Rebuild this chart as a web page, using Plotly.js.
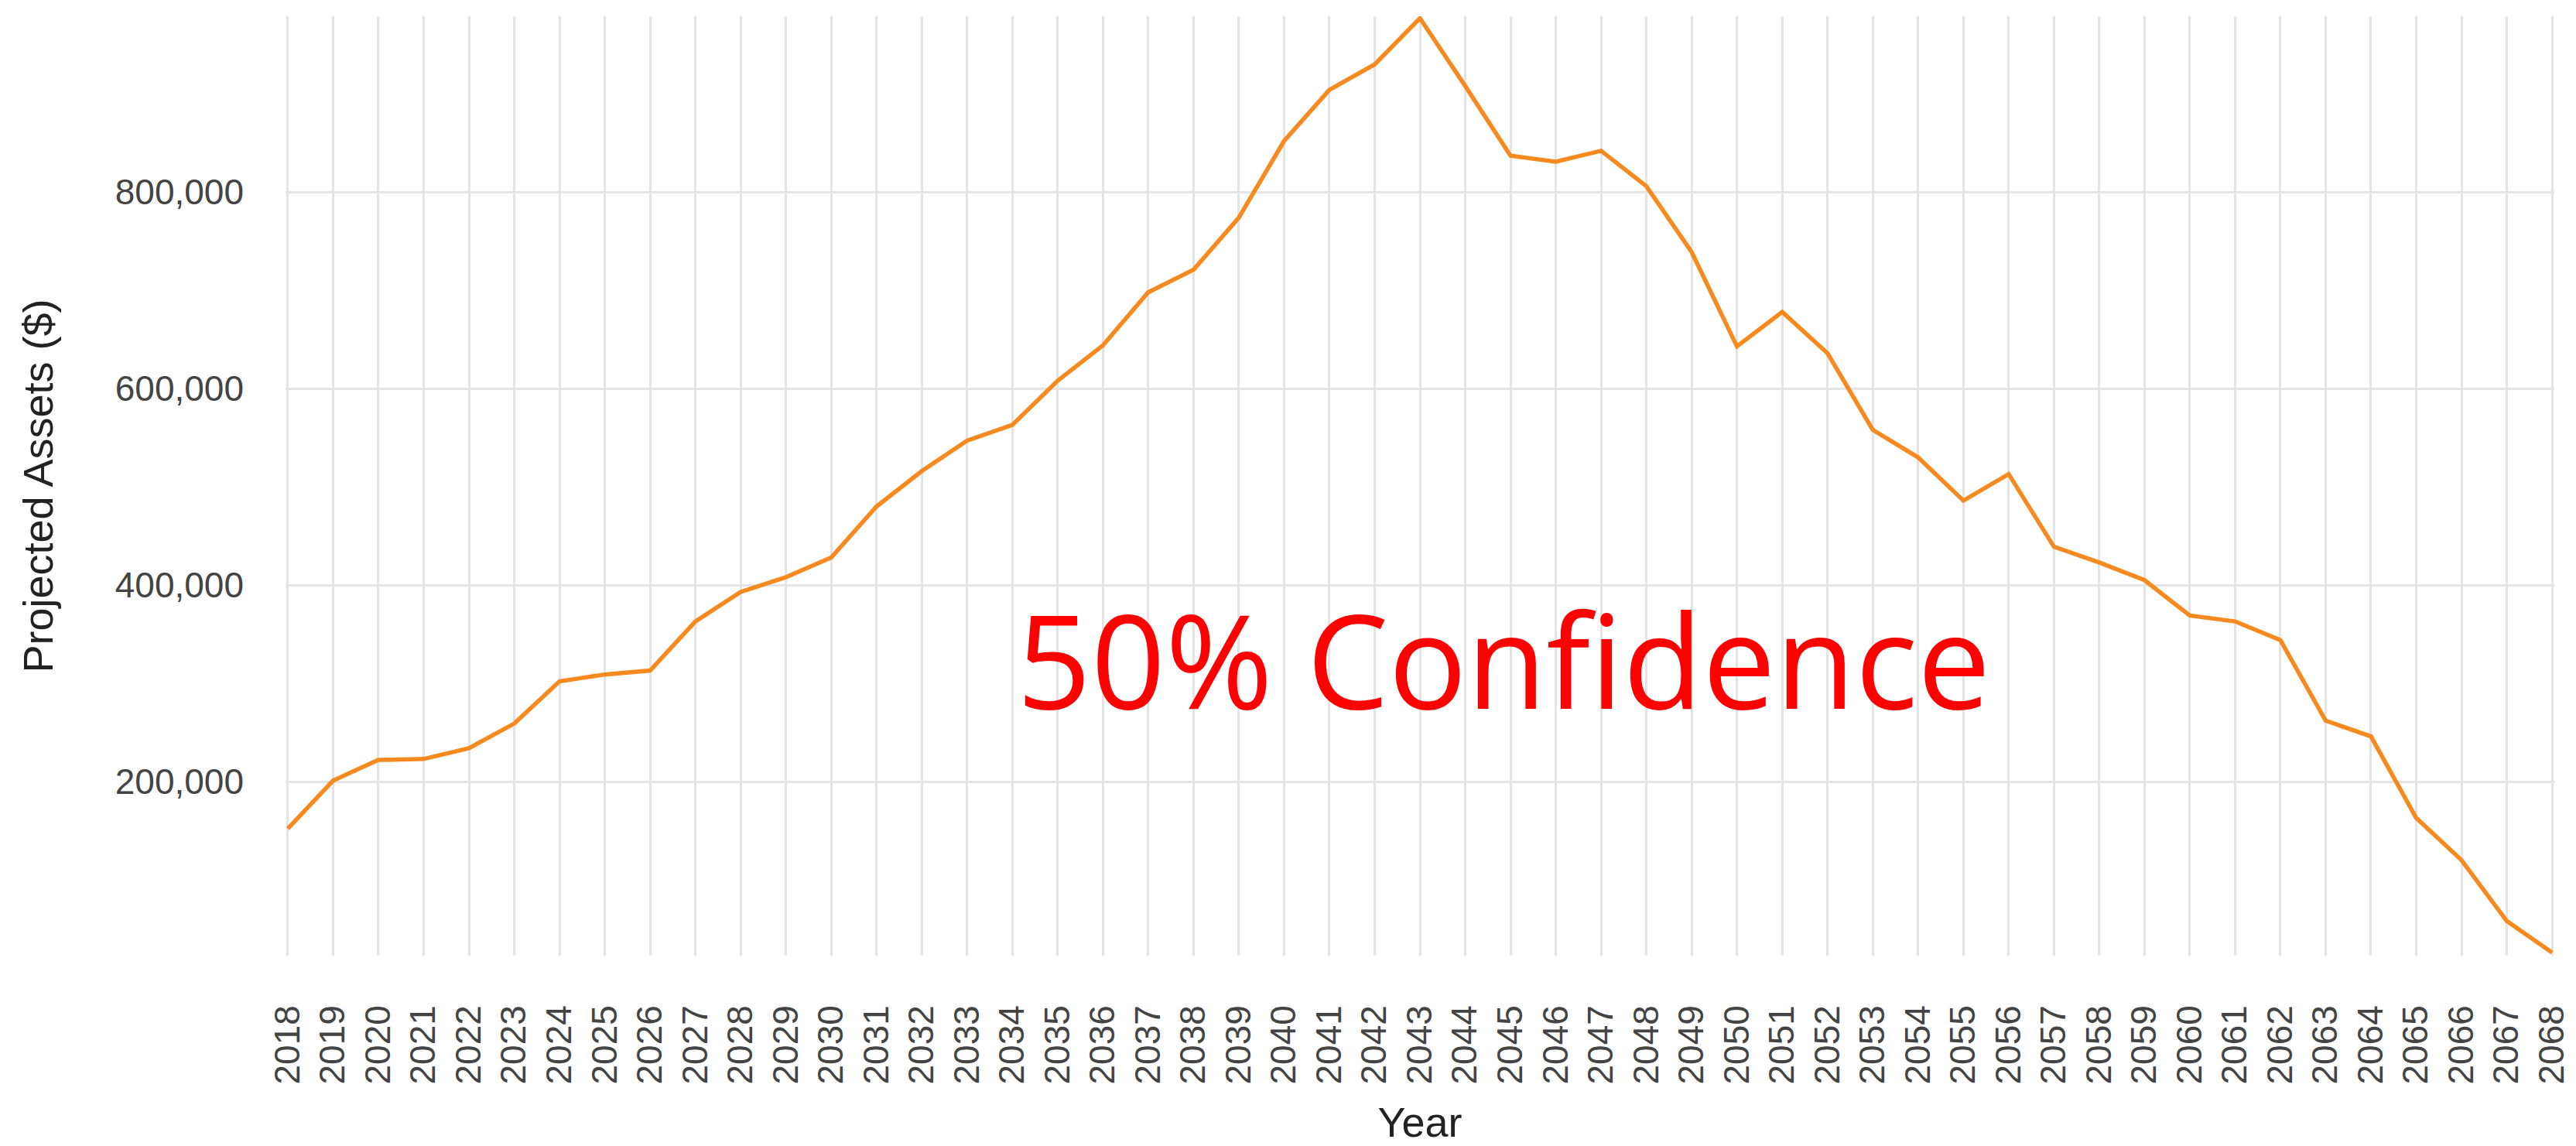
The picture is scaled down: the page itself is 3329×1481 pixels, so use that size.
<!DOCTYPE html>
<html>
<head>
<meta charset="utf-8">
<script src="https://cdn.plot.ly/plotly-3.0.1.min.js"></script>
<style>
  html, body { margin: 0; padding: 0; background: #fff; }
  #chart { width: 3329px; height: 1481px; }
</style>
</head>
<body>
<div id="chart"></div>
<script>
const years = [2018, 2019, 2020, 2021, 2022, 2023, 2024, 2025, 2026, 2027,
               2028, 2029, 2030, 2031, 2032, 2033, 2034, 2035, 2036, 2037,
               2038, 2039, 2040, 2041, 2042, 2043, 2044, 2045, 2046, 2047,
               2048, 2049, 2050, 2051, 2052, 2053, 2054, 2055, 2056, 2057,
               2058, 2059, 2060, 2061, 2062, 2063, 2064, 2065, 2066, 2067, 2068];

const projectedAssets = [152000, 201000, 222000, 223000, 234000, 259000, 302000, 309000, 313000, 363000,
                         393000, 408000, 428000, 480000, 516000, 547000, 563000, 608000, 644000, 698000,
                         721000, 774000, 852000, 904000, 930000, 977000, 908000, 837000, 831000, 842000,
                         806000, 739000, 643000, 678000, 636000, 558000, 530000, 486000, 513000, 439000,
                         423000, 405000, 369000, 363000, 344000, 262000, 246000, 163000, 120000, 58000, 26000];

const yTickValues = [200000, 400000, 600000, 800000];

const seriesName = "Projected Assets";
const annotationText = "50% Confidence";
const xTitle = "Year";
const yTitle = "Projected Assets ($)";

const tickFont = { family: "Liberation Sans, Arial, sans-serif", size: 46, color: "#444444" };
const titleFont = { family: "Liberation Sans, Arial, sans-serif", size: 54, color: "#222222" };

const trace = {
  x: years,
  y: projectedAssets,
  type: "scatter",
  mode: "lines",
  name: seriesName,
  line: { color: "#f68a1e", width: 5.5 },
  hoverinfo: "x+y",
  cliponaxis: false
};

const layout = {
  width: 3329,
  height: 1481,
  paper_bgcolor: "#ffffff",
  plot_bgcolor: "#ffffff",
  showlegend: false,
  margin: { l: 369, r: 28, t: 21, b: 246, pad: 0 },
  xaxis: {
    range: [2017.95, 2068.05],
    tickmode: "array",
    tickvals: years,
    ticktext: years.map(String),
    tickangle: -90,
    tickfont: tickFont,
    ticks: "",
    ticklabelstandoff: 54,
    ticklabeloverflow: "allow",
    showgrid: true,
    gridcolor: "#e4e4e4",
    gridwidth: 3,
    zeroline: false,
    showline: false,
    title: { text: xTitle, font: titleFont, standoff: 30 }
  },
  yaxis: {
    range: [22800, 979000],
    tickmode: "array",
    tickvals: yTickValues,
    tickformat: ",d",
    tickfont: tickFont,
    ticks: "",
    ticklabelstandoff: 53,
    showgrid: true,
    gridcolor: "#e4e4e4",
    gridwidth: 3,
    zeroline: false,
    showline: false,
    title: { text: yTitle, font: titleFont, standoff: 62 }
  },
  annotations: [{
    text: annotationText,
    xref: "paper",
    yref: "paper",
    x: 0.537,
    y: 0.317,
    xanchor: "center",
    yanchor: "middle",
    showarrow: false,
    font: { family: "Open Sans, Noto Sans, sans-serif", size: 168, color: "#ff0000" }
  }]
};

Plotly.newPlot("chart", [trace], layout, { displayModeBar: false, staticPlot: true });
</script>
</body>
</html>
